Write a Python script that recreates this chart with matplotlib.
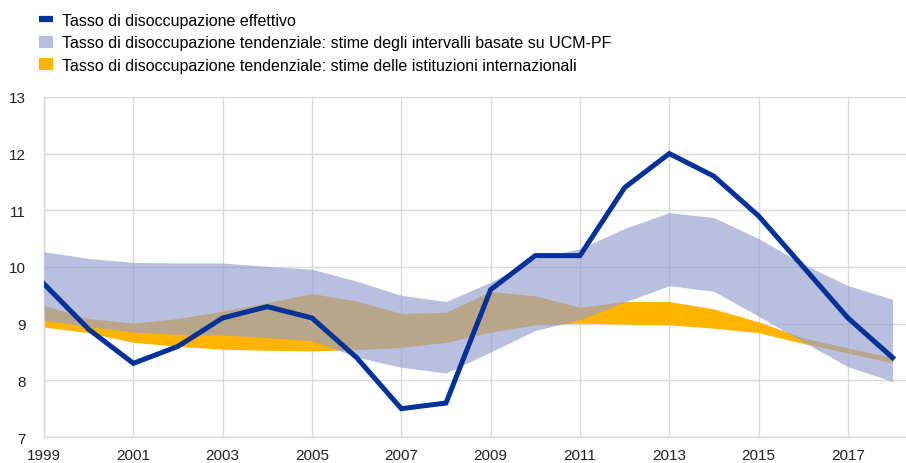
import matplotlib
matplotlib.use("Agg")
import matplotlib.pyplot as plt
from matplotlib.lines import Line2D
from matplotlib.patches import Patch

plt.rcParams['font.family'] = ['Liberation Sans', 'DejaVu Sans']

years = list(range(1999, 2019))

# actual unemployment rate
actual = [9.7, 8.9, 8.3, 8.6, 9.1, 9.3, 9.1, 8.4, 7.5, 7.6,
          9.6, 10.2, 10.2, 11.4, 12.0, 11.6, 10.9, 10.0, 9.1, 8.4]

# UCM-PF range (lower / upper)
ucm_low = [9.06, 8.95, 8.85, 8.81, 8.80, 8.75, 8.70, 8.41, 8.23, 8.13,
           8.50, 8.88, 9.07, 9.38, 9.67, 9.57, 9.13, 8.68, 8.24, 7.98]
ucm_high = [10.27, 10.15, 10.08, 10.07, 10.07, 10.01, 9.96, 9.75, 9.50, 9.39,
            9.73, 10.15, 10.32, 10.68, 10.96, 10.87, 10.50, 10.05, 9.67, 9.43]

# international institutions (lower / upper)
inst_low = [8.94, 8.84, 8.67, 8.60, 8.55, 8.53, 8.52, 8.54, 8.58, 8.67,
            8.85, 8.98, 9.01, 8.99, 8.98, 8.92, 8.84, 8.65, 8.48, 8.31]
inst_high = [9.32, 9.09, 9.01, 9.09, 9.22, 9.37, 9.53, 9.40, 9.18, 9.20,
             9.57, 9.49, 9.29, 9.39, 9.39, 9.26, 9.03, 8.75, 8.57, 8.40]

labels = [
    "Tasso di disoccupazione effettivo",
    "Tasso di disoccupazione tendenziale: stime degli intervalli basate su UCM-PF",
    "Tasso di disoccupazione tendenziale: stime delle istituzioni internazionali",
]

navy = "#003299"
orange = "#FFB400"
lavender = "#97A0CF"
grid_col = "#d9d9d9"

fig = plt.figure(figsize=(9.06, 4.64), dpi=100)
ax = fig.add_axes([0.0486, 0.056, 0.9514, 0.733])

ax.fill_between(years, inst_low, inst_high, color=orange, linewidth=0, zorder=2)
ax.fill_between(years, ucm_low, ucm_high, color=lavender, alpha=0.67, linewidth=0, zorder=3)
ax.plot(years, actual, color=navy, linewidth=3.6, zorder=4, solid_joinstyle='miter')

ax.set_xlim(1999, 2018.3)
ax.set_ylim(7, 13)
ax.set_xticks(range(1999, 2019, 2))
ax.set_yticks(range(7, 14))
ax.grid(True, color=grid_col, linewidth=1.0)
ax.set_axisbelow(True)
ax.tick_params(axis='both', length=0, labelsize=11, colors='#222222')
ax.tick_params(axis='y', pad=13)
ax.tick_params(axis='x', pad=8)
for side in ("top", "right"):
    ax.spines[side].set_visible(False)
for side in ("left", "bottom"):
    ax.spines[side].set_color(grid_col)
    ax.spines[side].set_linewidth(1.0)

handles = [
    Line2D([0], [0], color=navy, linewidth=4.5, solid_capstyle='butt'),
    Patch(facecolor="#B8BEDF", edgecolor='none'),
    Patch(facecolor=orange, edgecolor='none'),
]
fig.legend(handles, labels, loc='upper left', bbox_to_anchor=(0.031, 0.995),
           frameon=False, fontsize=11.5, handlelength=0.85, handleheight=0.8,
           handletextpad=0.6, labelspacing=0.48, borderaxespad=0.3)

fig.savefig("out.png", dpi=100)
